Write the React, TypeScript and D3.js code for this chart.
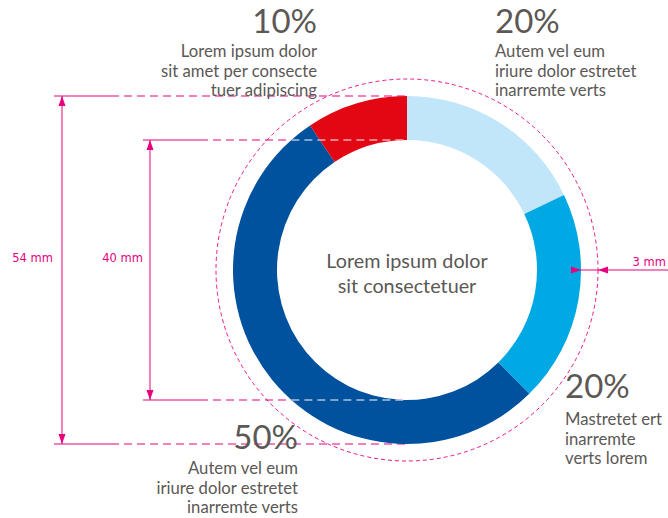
import React from "react";
import * as d3 from "d3";

const categories = ["Light", "Medium", "Dark", "Red"];
const values = [17.9, 19.7, 53.0, 9.4];
const percentLabels = ["20%", "20%", "50%", "10%"];
const descriptions = [
  ["Autem vel eum", "iriure dolor estretet", "inarremte verts"],
  ["Mastretet ert", "inarremte", "verts lorem"],
  ["Autem vel eum", "iriure dolor estretet", "inarremte verts"],
  ["Lorem ipsum dolor", "sit amet per consecte", "tuer adipiscing"],
];
const centerLines = ["Lorem ipsum dolor", "sit consectetuer"];
const dimensionLabels = ["54 mm", "40 mm", "3 mm"];

const colors = ["#c1e5f9", "#00a8e4", "#00519e", "#e30613"];
const W = 668, H = 518;
const cx = 407, cy = 270;
const rOuter = 174, rInner = 130, rGuide = 191;
const MAG = "#e6007e";
const TXT = "#5b5855";
const FONT = "Lato, 'Noto Sans', sans-serif";

const labelLayout = [
  { x: 495, y: 33, anchor: "start", d: 24 },
  { x: 565, y: 398, anchor: "start", d: 27 },
  { x: 298, y: 449, anchor: "end", d: 25 },
  { x: 317, y: 33, anchor: "end", d: 24 },
];

function Arrow({ x, y, dir }: { x: number; y: number; dir: "up" | "down" | "left" | "right" }) {
  const L = 10, w = 3.5;
  let p = "";
  if (dir === "up") p = `M${x},${y}L${x - w},${y + L}L${x + w},${y + L}Z`;
  if (dir === "down") p = `M${x},${y}L${x - w},${y - L}L${x + w},${y - L}Z`;
  if (dir === "right") p = `M${x},${y}L${x - L},${y - w}L${x - L},${y + w}Z`;
  if (dir === "left") p = `M${x},${y}L${x + L},${y - w}L${x + L},${y + w}Z`;
  return <path d={p} fill={MAG} />;
}

export default function App() {
  const pie = d3.pie<number>().sort(null).value((d) => d).startAngle(0).endAngle(2 * Math.PI);
  const arcs = pie(values);
  const arc = d3.arc<d3.PieArcDatum<number>>().innerRadius(rInner).outerRadius(rOuter);

  const yTopO = cy - rOuter, yBotO = cy + rOuter;
  const yTopI = cy - rInner, yBotI = cy + rInner;
  const x54 = 62, x40 = 150;
  const ringX = (y: number) => cx - Math.sqrt(Math.max(0, rOuter * rOuter - (y - cy) * (y - cy)));

  const dimLines = [
    { y: yTopO, x0: 54, solidEnd: 111 },
    { y: yBotO, x0: 54, solidEnd: 111 },
    { y: yTopI, x0: 143, solidEnd: 200 },
    { y: yBotI, x0: 143, solidEnd: 200 },
  ];

  return (
    <svg width={W} height={H} style={{ position: "absolute", left: 0, top: 0 }} fontFamily={FONT}>
      <rect width={W} height={H} fill="#fff" />
      {dimLines.map((l, i) => (
        <g key={"dl" + i}>
          <line x1={l.x0} x2={l.solidEnd} y1={l.y} y2={l.y} stroke={MAG} strokeWidth={1} />
          <line x1={l.solidEnd} x2={cx} y1={l.y} y2={l.y} stroke={MAG} strokeWidth={1} strokeDasharray="8,5" />
        </g>
      ))}
      <g transform={`translate(${cx},${cy})`}>
        {arcs.map((a, i) => (
          <path key={categories[i]} d={arc(a) || ""} fill={colors[i]} />
        ))}
      </g>
      {[yTopI, yBotI].map((y, i) => (
        <line key={"wd" + i} x1={ringX(y)} x2={cx} y1={y} y2={y} stroke="#fff" strokeWidth={1} strokeDasharray="8,5" />
      ))}
      <circle cx={cx} cy={cy} r={rGuide} fill="none" stroke={MAG} strokeWidth={0.9} strokeDasharray="4,3" />
      <line x1={x54} x2={x54} y1={yTopO} y2={yBotO} stroke={MAG} strokeWidth={1} />
      <Arrow x={x54} y={yTopO} dir="up" />
      <Arrow x={x54} y={yBotO} dir="down" />
      <line x1={x40} x2={x40} y1={yTopI} y2={yBotI} stroke={MAG} strokeWidth={1} />
      <Arrow x={x40} y={yTopI} dir="up" />
      <Arrow x={x40} y={yBotI} dir="down" />
      <line x1={cx + rOuter - 10} x2={W} y1={cy} y2={cy} stroke={MAG} strokeWidth={1} />
      <Arrow x={cx + rOuter} y={cy} dir="right" />
      <Arrow x={cx + rGuide} y={cy} dir="left" />
      <text x={53} y={262} textAnchor="end" fill={MAG} fontSize={11.5} fontFamily="'DejaVu Sans', sans-serif">{dimensionLabels[0]}</text>
      <text x={143} y={262} textAnchor="end" fill={MAG} fontSize={11.5} fontFamily="'DejaVu Sans', sans-serif">{dimensionLabels[1]}</text>
      <text x={666} y={266} textAnchor="end" fill={MAG} fontSize={11.5} fontFamily="'DejaVu Sans', sans-serif">{dimensionLabels[2]}</text>
      {centerLines.map((t, i) => (
        <text key={"c" + i} x={cx} y={268 + i * 25} textAnchor="middle" fill={TXT} fontSize={19.8}>{t}</text>
      ))}
      {labelLayout.map((l, i) => (
        <g key={"lab" + i} fill={TXT}>
          <text x={l.x} y={l.y} textAnchor={l.anchor} fontSize={33}>{percentLabels[i]}</text>
          {descriptions[i].map((t, j) => (
            <text key={j} x={l.x} y={l.y + l.d + j * 19.5} textAnchor={l.anchor} fontSize={16.7}>{t}</text>
          ))}
        </g>
      ))}
    </svg>
  );
}
